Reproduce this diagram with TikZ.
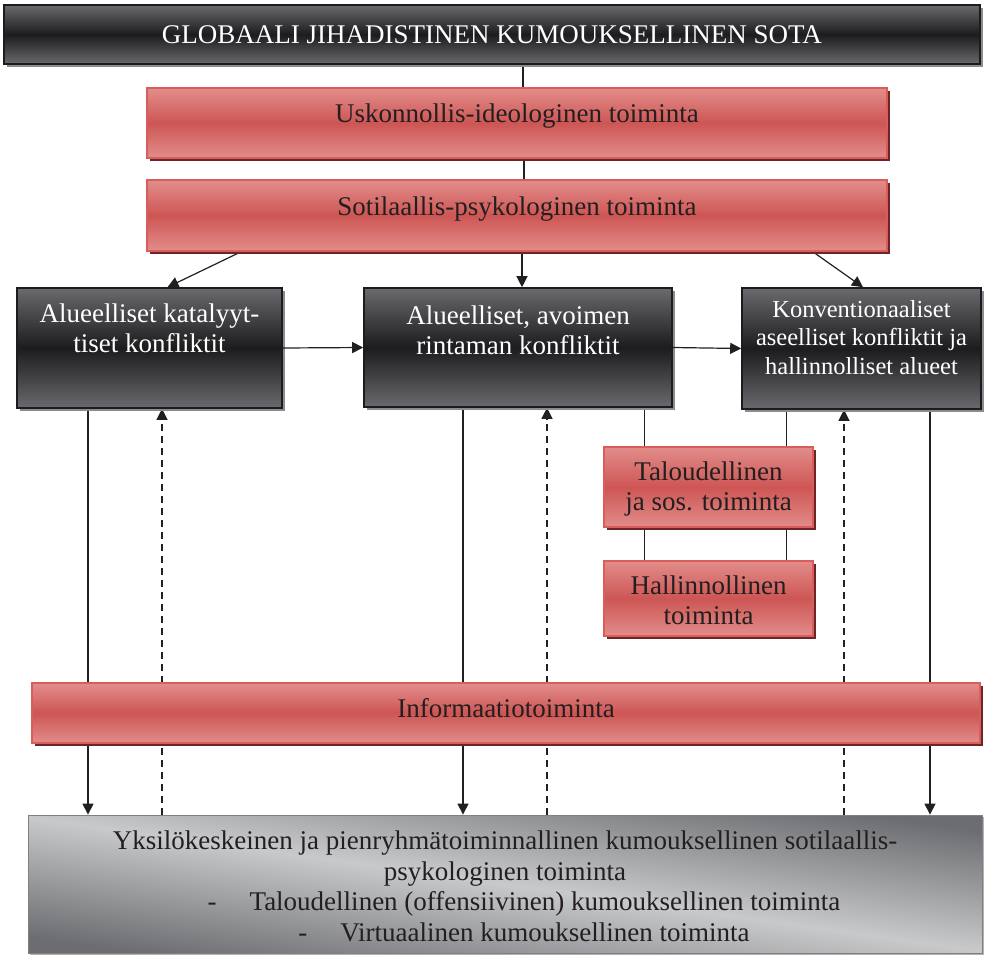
\documentclass[tikz,border=0pt]{standalone}
\usepackage{fontspec}
\setmainfont{Liberation Serif}
\usetikzlibrary{positioning,shadows,arrows.meta,backgrounds}

\definecolor{redlight}{HTML}{E28D8B}
\definecolor{redmid}{HTML}{CD5654}
\definecolor{redline}{HTML}{D95D5A}
\definecolor{redshadow}{HTML}{6E2527}
\definecolor{darkmid}{HTML}{1C1B1D}
\definecolor{darkgray}{HTML}{6A6A6E}
\definecolor{darkshadow}{HTML}{8C8C8E}
\definecolor{greylight}{HTML}{C8C9CB}
\definecolor{greydark}{HTML}{6C6D70}
\definecolor{textdark}{HTML}{231F20}

\tikzset{
  redbox/.style={draw=redline, line width=1.2pt, top color=redlight, bottom color=redlight,
    middle color=redmid, inner sep=0pt,
    drop shadow={shadow xshift=3pt, shadow yshift=-3pt, fill=redshadow, opacity=1}},
  darkbox/.style={draw=darkmid, line width=1.6pt, top color=darkgray, bottom color=darkgray,
    middle color=darkmid, inner sep=0pt,
    drop shadow={shadow xshift=3pt, shadow yshift=-3pt, fill=darkshadow, opacity=1}},
  greybox/.style={draw=gray, line width=0.8pt, shading=axis, top color=greydark,
    bottom color=greydark, middle color=greylight, shading angle=-8, inner sep=0pt,
    drop shadow={shadow xshift=2pt, shadow yshift=-2pt, fill=gray!60, opacity=1}},
  redtxt/.style={inner sep=0pt, align=center, text=textdark},
  darktxt/.style={inner sep=0pt, align=center, text=white},
  line/.style={line width=1.2pt, draw=textdark},
  arr/.style={line, -{Triangle[length=11pt,width=11pt]}},
  dasharr/.style={arr, dash pattern=on 7pt off 5pt}
}

\begin{document}
\begin{tikzpicture}[x=1pt, y=-1pt, font=\fontsize{27}{30.5}\selectfont]
\useasboundingbox (0,0) rectangle (986,954);

\node[darkbox, minimum width=976pt, minimum height=59pt, text=white] (glob) at (492,34.5) {GLOBAALI JIHADISTINEN KUMOUKSELLINEN SOTA};
\node[redbox, minimum width=740pt, minimum height=70pt] (usk) at (517,123) {};
\node[redtxt, below=16pt of usk.north] (uskt) {Uskonnollis-ideologinen toiminta};
\node[redbox, minimum width=740pt, minimum height=71pt] (sot) at (517,215.5) {};
\node[redtxt, below=17pt of sot.north] (sott) {Sotilaallis-psykologinen toiminta};

\node[darkbox, minimum width=265pt, minimum height=120pt] (kat) at (149.5,348) {};
\node[darktxt, below=16pt of kat.north] (katt) {Alueelliset katalyyt-\\tiset konfliktit};
\node[darkbox, minimum width=308pt, minimum height=119pt] (avo) at (518,347.5) {};
\node[darktxt, below=18pt of avo.north] (avot) {Alueelliset, avoimen\\rintaman konfliktit};
\node[darkbox, minimum width=239pt, minimum height=121pt] (konv) at (861.5,348.5) {};
\node[darktxt, below=13pt of konv.north, font=\fontsize{24.5}{28.5}\selectfont] (konvt) {Konventionaaliset\\aseelliset konfliktit ja\\hallinnolliset alueet};

\node[redbox, minimum width=209pt, minimum height=80pt] (tal) at (708.5,487) {};
\node[redtxt, below=15pt of tal.north] (talt) {Taloudellinen\\ja sos. toiminta};
\node[redbox, minimum width=209pt, minimum height=75pt] (hal) at (708.5,598.5) {};
\node[redtxt, below=15pt of hal.north] (halt) {Hallinnollinen\\toiminta};

\node[redbox, minimum width=948pt, minimum height=60pt] (info) at (506,713) {};
\node[redtxt, below=16pt of info.north] (infot) {Informaatiotoiminta};

\node[greybox, minimum width=954pt, minimum height=138pt] (yks) at (505,884) {};
\node[redtxt, below=16pt of yks.north] (ykst) {Yksilökeskeinen ja pienryhmätoiminnallinen kumouksellinen sotilaallis-\\
psykologinen toiminta\\
\hspace*{38pt}-\hspace{33pt}Taloudellinen (offensiivinen) kumouksellinen toiminta\\
\hspace*{38pt}-\hspace{33pt}Virtuaalinen kumouksellinen toiminta};

\begin{scope}[on background layer]
\draw[line] ([xshift=6pt]usk.north) -- ([xshift=6pt]usk.north |- glob.south);
\draw[line] ([xshift=7pt]sot.north) -- ([xshift=7pt]sot.north |- usk.south);
\draw[arr] ([xshift=95pt]sot.south west) -- ([xshift=18pt]kat.north);
\draw[arr] ([xshift=4pt]avo.north |- sot.south) -- ([xshift=4pt]avo.north);
\draw[arr] ([xshift=-75pt]sot.south east) -- ([xshift=1.5pt]konv.north);
\draw[line] ([xshift=-64pt]tal.north) -- ([xshift=-64pt]tal.north |- avo.south);
\draw[line] ([xshift=78pt]tal.north) -- ([xshift=78pt]tal.north |- konv.south);
\draw[line] ([xshift=-64pt]hal.north) -- ([xshift=-64pt]hal.north |- tal.south);
\draw[line] ([xshift=78pt]hal.north) -- ([xshift=78pt]hal.north |- tal.south);
\draw[arr] ([xshift=-61.5pt]kat.south) -- ([xshift=-61.5pt]kat.south |- yks.north);
\draw[dasharr] ([xshift=12.5pt]kat.south |- yks.north) -- ([xshift=12.5pt]kat.south);
\draw[arr] ([xshift=-55pt]avo.south) -- ([xshift=-55pt]avo.south |- yks.north);
\draw[dasharr] ([xshift=29pt]avo.south |- yks.north) -- ([xshift=29pt]avo.south);
\draw[dasharr] ([xshift=-17.5pt]konv.south |- yks.north) -- ([xshift=-17.5pt]konv.south);
\draw[arr] ([xshift=68.5pt]konv.south) -- ([xshift=68.5pt]konv.south |- yks.north);
\end{scope}
\draw[arr] (kat.east) -- (avo.west);
\draw[arr] (avo.east) -- (konv.west);

\end{tikzpicture}
\end{document}
